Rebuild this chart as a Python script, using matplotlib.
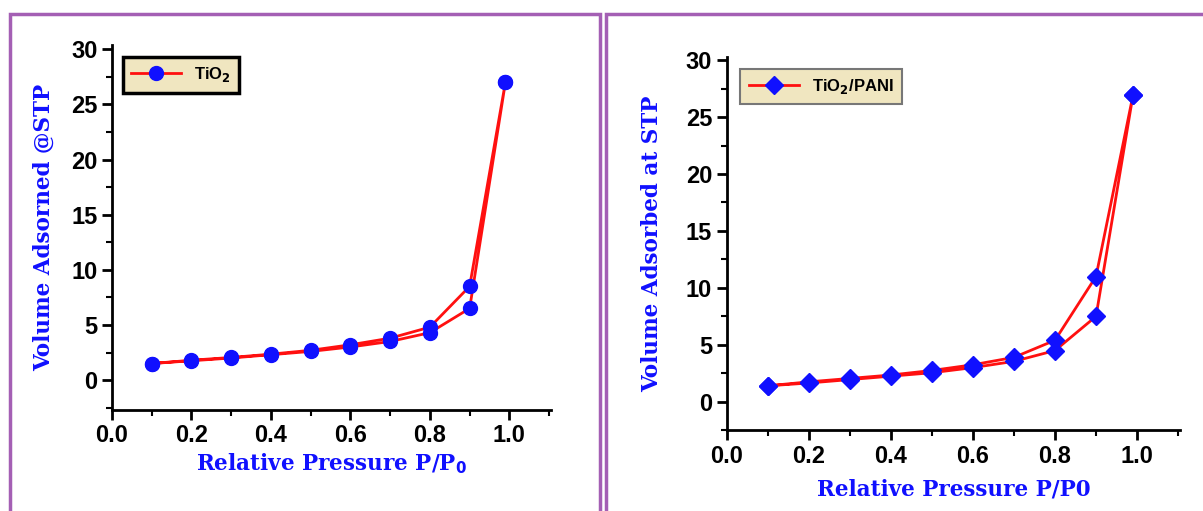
import matplotlib
matplotlib.use("Agg")
from matplotlib import pyplot as plt
from matplotlib.ticker import MultipleLocator
from matplotlib.patches import Rectangle

# TiO2 isotherm (adsorption then desorption branch)
p_ads = [0.1, 0.2, 0.3, 0.4, 0.5, 0.6, 0.7, 0.8, 0.9, 0.99]
p_des = [0.99, 0.9, 0.8, 0.7, 0.6, 0.5, 0.4, 0.3, 0.2, 0.1]

tio2_ads = [1.5, 1.75, 2.0, 2.3, 2.6, 3.0, 3.5, 4.3, 6.5, 27.0]
tio2_des = [27.0, 8.5, 4.8, 3.8, 3.2, 2.7, 2.35, 2.05, 1.8, 1.5]

pani_ads = [1.4, 1.65, 1.95, 2.25, 2.55, 3.0, 3.55, 4.5, 7.5, 26.9]
pani_des = [26.9, 11.0, 5.4, 3.9, 3.25, 2.75, 2.35, 2.05, 1.75, 1.4]

blue = '#1010ff'
red = '#ff1010'

plt.rcParams['font.family'] = ['Liberation Sans', 'DejaVu Sans']

fig = plt.figure(figsize=(12.03, 5.11), dpi=100)

# purple panel frames
for x0, w in ((10, 590), (606, 600)):
    fig.patches.append(Rectangle((x0 / 1203, -0.05), w / 1203, 1.05 - 14 / 511,
                                 transform=fig.transFigure, fill=False,
                                 edgecolor='#a45fb4', lw=2.5))


def panel(rect, ads, des, marker, ms, label, ylabel, xlabel, ylim, xlab_y, ylab_x,
          anchor, edge, elw):
    ax = fig.add_axes(rect)
    ax.plot(p_ads + p_des, ads + des, '-', color=red, lw=2,
            marker=marker, ms=ms, mfc=blue, mec=blue, label=label)
    ax.set_xlim(0, 1.105)
    ax.set_ylim(*ylim)
    ax.spines['top'].set_visible(False)
    ax.spines['right'].set_visible(False)
    for s in ('left', 'bottom'):
        ax.spines[s].set_linewidth(2)
    ax.xaxis.set_major_locator(MultipleLocator(0.2))
    ax.xaxis.set_minor_locator(MultipleLocator(0.1))
    ax.yaxis.set_major_locator(MultipleLocator(5))
    ax.yaxis.set_minor_locator(MultipleLocator(2.5))
    ax.tick_params(which='major', direction='out', length=7, width=2, labelsize=17)
    ax.tick_params(which='minor', direction='out', length=4, width=1.5)
    ax.set_xticks([0, 0.2, 0.4, 0.6, 0.8, 1.0])
    ax.set_xticklabels(['0.0', '0.2', '0.4', '0.6', '0.8', '1.0'])
    for t in ax.get_xticklabels() + ax.get_yticklabels():
        t.set_fontweight('bold')
    ax.set_xlabel(xlabel, color=blue, fontsize=15.5, fontweight='bold',
                  family='DejaVu Serif')
    ax.xaxis.set_label_coords(0.5, xlab_y)
    ax.set_ylabel(ylabel, color=blue, fontsize=15.5, fontweight='bold',
                  family='DejaVu Serif')
    ax.yaxis.set_label_coords(ylab_x, 0.5)
    leg = ax.legend(loc='upper left', bbox_to_anchor=anchor, fancybox=False,
                    prop={'weight': 'bold', 'size': 12}, handlelength=3,
                    borderpad=0.5, framealpha=1)
    leg.get_frame().set_facecolor('#f0e6c0')
    leg.get_frame().set_edgecolor(edge)
    leg.get_frame().set_linewidth(elw)
    return ax


ax1 = panel([0.0931, 0.198, 0.365, 0.714], tio2_ads, tio2_des, 'o', 10,
            r'TiO$_\mathbf{2}$', 'Volume Adsorned @STP', r'Relative Pressure P/P$_\mathbf{0}$',
            (-2.7, 30.4), -0.115, -0.13, (0.005, 0.99), 'black', 2.5)
ax2 = panel([0.604, 0.158, 0.377, 0.731], pani_ads, pani_des, 'D', 9,
            r'TiO$_\mathbf{2}$/PANI', 'Volume Adsorbed at STP', 'Relative Pressure P/P0',
            (-2.5, 30.3), -0.128, -0.141, (0.012, 0.99), '#777777', 1.5)

fig.savefig('out.png', dpi=100)
